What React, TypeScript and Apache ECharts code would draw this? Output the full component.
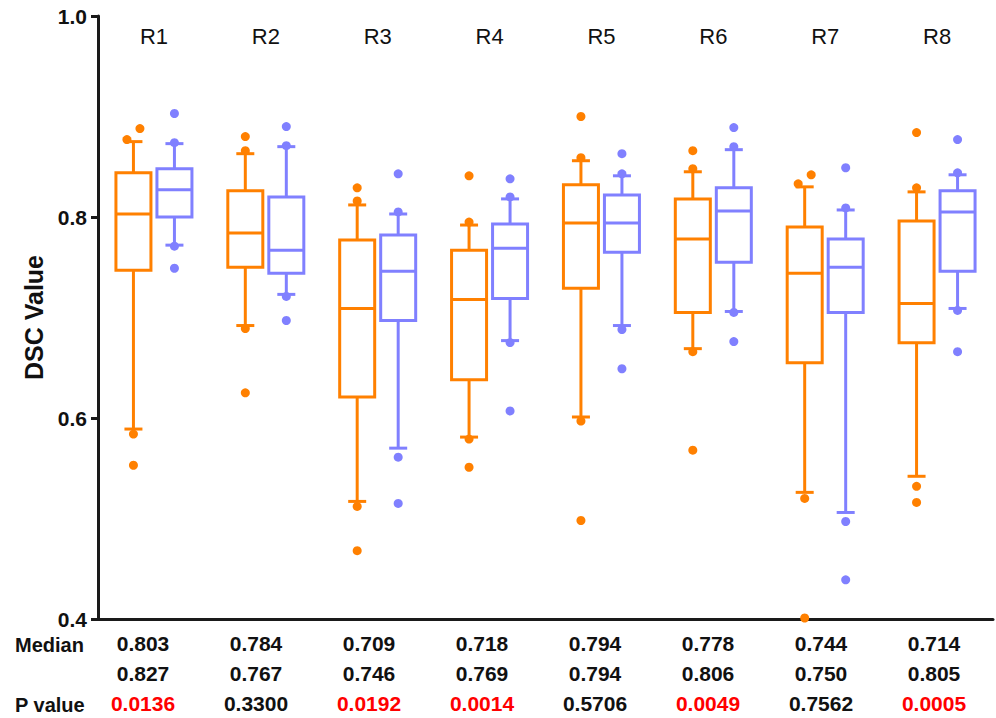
import React, { useEffect, useRef } from 'react';
import * as echarts from 'echarts';

const categories = ['R1', 'R2', 'R3', 'R4', 'R5', 'R6', 'R7', 'R8'];

// [lower whisker, Q1, median, Q3, upper whisker]
const orangeBoxes = [
  [0.589, 0.747, 0.803, 0.844, 0.875],
  [0.692, 0.750, 0.784, 0.826, 0.863],
  [0.517, 0.621, 0.709, 0.777, 0.812],
  [0.581, 0.638, 0.718, 0.767, 0.792],
  [0.601, 0.729, 0.794, 0.832, 0.856],
  [0.669, 0.705, 0.778, 0.818, 0.845],
  [0.526, 0.655, 0.744, 0.790, 0.830],
  [0.542, 0.675, 0.714, 0.796, 0.825],
];
const blueBoxes = [
  [0.772, 0.800, 0.827, 0.848, 0.873],
  [0.723, 0.744, 0.767, 0.820, 0.870],
  [0.570, 0.697, 0.746, 0.782, 0.803],
  [0.677, 0.719, 0.769, 0.793, 0.818],
  [0.692, 0.765, 0.794, 0.822, 0.841],
  [0.706, 0.755, 0.806, 0.829, 0.867],
  [0.506, 0.705, 0.750, 0.778, 0.807],
  [0.709, 0.746, 0.805, 0.826, 0.842],
];
const orangeOutliers = [
  [0.888, 0.877, 0.584, 0.553],
  [0.880, 0.866, 0.689, 0.625],
  [0.829, 0.816, 0.512, 0.468],
  [0.841, 0.795, 0.579, 0.551],
  [0.900, 0.859, 0.597, 0.498],
  [0.866, 0.848, 0.666, 0.568],
  [0.842, 0.833, 0.520, 0.401],
  [0.884, 0.829, 0.532, 0.516],
];
const blueOutliers = [
  [0.903, 0.874, 0.771, 0.749],
  [0.890, 0.871, 0.721, 0.697],
  [0.843, 0.805, 0.561, 0.515],
  [0.838, 0.820, 0.675, 0.607],
  [0.863, 0.843, 0.688, 0.649],
  [0.889, 0.870, 0.705, 0.676],
  [0.849, 0.809, 0.497, 0.439],
  [0.877, 0.844, 0.707, 0.666],
];

const medianOrange = ['0.803', '0.784', '0.709', '0.718', '0.794', '0.778', '0.744', '0.714'];
const medianBlue = ['0.827', '0.767', '0.746', '0.769', '0.794', '0.806', '0.750', '0.805'];
const pValues = ['0.0136', '0.3300', '0.0192', '0.0014', '0.5706', '0.0049', '0.7562', '0.0005'];

const ORANGE = '#ff8000';
const BLUE = '#8080ff';
const INK = '#111111';
const FONT = '"Liberation Sans", Arial, Helvetica, sans-serif';
const SIDE = 20.5;

function makeRenderer(color: string, offset: number) {
  return (params: any, api: any) => {
    const cat = api.value(0);
    const pLow = api.coord([cat, api.value(1)]);
    const pQ1 = api.coord([cat, api.value(2)]);
    const pMed = api.coord([cat, api.value(3)]);
    const pQ3 = api.coord([cat, api.value(4)]);
    const pHigh = api.coord([cat, api.value(5)]);
    const x = pLow[0] + offset;
    const halfW = 17.5;
    const capHalf = 9;
    const st = { stroke: color, lineWidth: 3, fill: 'none' };
    return {
      type: 'group',
      children: [
        { type: 'line', shape: { x1: x, y1: pHigh[1], x2: x, y2: pQ3[1] }, style: st },
        { type: 'line', shape: { x1: x, y1: pQ1[1], x2: x, y2: pLow[1] }, style: st },
        { type: 'line', shape: { x1: x - capHalf, y1: pHigh[1], x2: x + capHalf, y2: pHigh[1] }, style: st },
        { type: 'line', shape: { x1: x - capHalf, y1: pLow[1], x2: x + capHalf, y2: pLow[1] }, style: st },
        {
          type: 'rect',
          shape: { x: x - halfW, y: pQ3[1], width: halfW * 2, height: pQ1[1] - pQ3[1] },
          style: { stroke: color, lineWidth: 3, fill: '#ffffff' },
        },
        { type: 'line', shape: { x1: x - halfW, y1: pMed[1], x2: x + halfW, y2: pMed[1] }, style: st },
      ],
    };
  };
}

function boxData(boxes: number[][]) {
  return boxes.map((b, i) => [i, ...b]);
}

function outlierData(outs: number[][], side: number) {
  const items: any[] = [];
  outs.forEach((vals, i) => {
    const sorted = [...vals].sort((a, b) => a - b);
    const dodge: number[] = sorted.map(() => 0);
    for (let k = 1; k < sorted.length; k++) {
      if (sorted[k] - sorted[k - 1] < 0.012) {
        dodge[k - 1] = -6.5;
        dodge[k] = 6.5;
      }
    }
    sorted.forEach((v, k) => {
      items.push({ value: [i, v], symbolOffset: [side + dodge[k], 0] });
    });
  });
  return items;
}

export default function App() {
  const ref = useRef<HTMLDivElement>(null);
  useEffect(() => {
    if (!ref.current) return;
    const chart = echarts.init(ref.current, null, { renderer: 'svg' });
    const labelStyle = { fontSize: 21, fontWeight: 'bold', fontFamily: FONT, lineHeight: 30 };
    chart.setOption({
      animation: false,
      backgroundColor: '#ffffff',
      grid: [
        { left: 98, right: 3, top: 16, bottom: 99 },
        { left: 86.5, right: 5.5, top: 16, bottom: 99 },
      ],
      xAxis: [
        {
          type: 'category',
          gridIndex: 0,
          data: categories,
          position: 'bottom',
          axisLine: { show: true, onZero: false, lineStyle: { color: '#1a1a1a', width: 3 } },
          axisTick: { show: false },
          axisLabel: { show: false },
          splitLine: { show: false },
        },
        {
          type: 'category',
          gridIndex: 0,
          data: categories,
          position: 'top',
          axisLine: { show: false },
          axisTick: { show: false },
          axisLabel: {
            show: true,
            inside: true,
            margin: 9,
            interval: 0,
            fontSize: 22,
            fontFamily: FONT,
            color: INK,
          },
        },
        {
          type: 'category',
          gridIndex: 1,
          data: categories,
          position: 'bottom',
          axisLine: { show: false },
          axisTick: { show: false },
          axisLabel: {
            show: true,
            interval: 0,
            margin: 11,
            lineHeight: 30,
            formatter: (_v: string, i: number) =>
              `{m|${medianOrange[i]}}\n{m|${medianBlue[i]}}\n{${parseFloat(pValues[i]) < 0.05 ? 'r' : 'm'}|${pValues[i]}}`,
            rich: {
              m: { ...labelStyle, color: INK },
              r: { ...labelStyle, color: '#ff0000' },
            },
          },
        },
      ],
      yAxis: [
        {
          type: 'value',
          gridIndex: 0,
          min: 0.4,
          max: 1.0,
          interval: 0.2,
          name: 'DSC Value',
          nameLocation: 'middle',
          nameRotate: 90,
          nameGap: 52,
          nameTextStyle: { fontSize: 25, fontWeight: 'bold', fontFamily: FONT, color: INK },
          axisLine: { show: true, lineStyle: { color: '#1a1a1a', width: 3 } },
          axisTick: { show: true, length: 7, lineStyle: { color: '#1a1a1a', width: 3 } },
          axisLabel: {
            margin: 11,
            fontSize: 21,
            fontWeight: 'bold',
            fontFamily: FONT,
            color: INK,
            formatter: (v: number) => v.toFixed(1),
          },
          splitLine: { show: false },
        },
        {
          type: 'value',
          gridIndex: 1,
          min: 0.4,
          max: 1.0,
          show: false,
        },
      ],
      graphic: [
        {
          type: 'text',
          x: 15,
          y: 645,
          style: { text: 'Median', fontSize: 20, fontWeight: 'bold', fontFamily: FONT, fill: INK, verticalAlign: 'middle' },
        },
        {
          type: 'text',
          x: 15,
          y: 705,
          style: { text: 'P value', fontSize: 20, fontWeight: 'bold', fontFamily: FONT, fill: INK, verticalAlign: 'middle' },
        },
      ],
      series: [
        {
          type: 'custom',
          xAxisIndex: 0,
          yAxisIndex: 0,
          renderItem: makeRenderer(ORANGE, -SIDE),
          encode: { x: 0, y: [1, 2, 3, 4, 5] },
          data: boxData(orangeBoxes),
          z: 2,
        },
        {
          type: 'custom',
          xAxisIndex: 0,
          yAxisIndex: 0,
          renderItem: makeRenderer(BLUE, SIDE),
          encode: { x: 0, y: [1, 2, 3, 4, 5] },
          data: boxData(blueBoxes),
          z: 2,
        },
        {
          type: 'scatter',
          xAxisIndex: 0,
          yAxisIndex: 0,
          symbol: 'circle',
          symbolSize: 9,
          itemStyle: { color: ORANGE, opacity: 1 },
          data: outlierData(orangeOutliers, -SIDE),
          z: 3,
        },
        {
          type: 'scatter',
          xAxisIndex: 0,
          yAxisIndex: 0,
          symbol: 'circle',
          symbolSize: 9,
          itemStyle: { color: BLUE, opacity: 1 },
          data: outlierData(blueOutliers, SIDE),
          z: 3,
        },
      ],
    });
    return () => chart.dispose();
  }, []);
  return (
    <div
      ref={ref}
      style={{ position: 'fixed', left: 0, top: 0, width: 996, height: 718, background: '#fff' }}
    />
  );
}
